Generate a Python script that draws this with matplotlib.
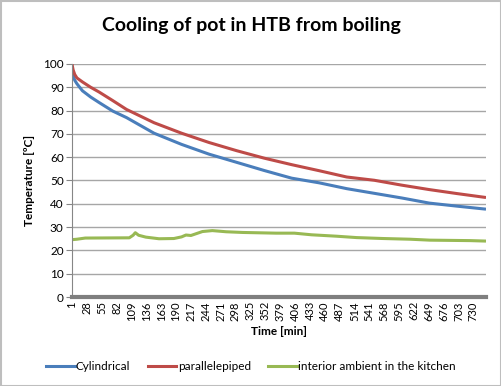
import numpy as np
import matplotlib.pyplot as plt
from matplotlib.patches import Rectangle
from matplotlib.lines import Line2D

# readings taken off the original chart (minutes, °C)
t_pots = [1, 3, 6, 10, 20, 35, 50, 75, 100, 150, 200, 250, 300, 350, 400,
          450, 500, 550, 600, 650, 700, 753]
cylindrical = [99.0, 95.0, 93.0, 91.5, 88.5, 85.8, 83.5, 79.8, 77.0, 70.3, 65.5,
               61.3, 57.8, 54.3, 51.0, 49.0, 46.5, 44.5, 42.5, 40.3, 39.0, 37.7]
parallelepiped = [100.0, 97.5, 95.5, 94.0, 92.3, 90.0, 88.0, 84.3, 80.5, 74.8, 70.3,
                  66.3, 62.8, 59.6, 56.8, 54.2, 51.5, 50.1, 48.0, 46.1, 44.4, 42.7]

t_amb = [1, 10, 25, 105, 112, 116, 122, 135, 159, 186, 200, 208, 217, 238, 256,
         281, 311, 372, 405, 436, 481, 518, 566, 615, 651, 724, 753]
ambient = [24.6, 24.8, 25.3, 25.4, 26.5, 27.6, 26.5, 25.7, 25.0, 25.1, 25.8, 26.6,
           26.4, 28.1, 28.5, 28.0, 27.7, 27.4, 27.4, 26.7, 26.1, 25.5, 25.1, 24.8,
           24.4, 24.2, 24.0]

x_ticks = list(range(1, 731, 27))
names = ["Cylindrical", "parallelepiped", "interior ambient in the kitchen"]
colors = ["#4a7ebb", "#be4b48", "#98b954"]

plt.rcParams['font.family'] = ['Lato', 'DejaVu Sans']

fig = plt.figure(figsize=(5.02, 3.86), dpi=100)
ax = fig.add_axes([72 / 502, 1 - 297 / 386, 414 / 502, 233 / 386])

ax.plot(t_pots, cylindrical, color=colors[0], lw=2.2, solid_capstyle='butt')
ax.plot(t_pots, parallelepiped, color=colors[1], lw=2.2, solid_capstyle='butt')
ax.plot(t_amb, ambient, color=colors[2], lw=2.2, solid_capstyle='butt')

ax.set_xlim(1, 753)
ax.set_ylim(0, 100)
ax.set_yticks(range(0, 101, 10))
ax.set_xticks(x_ticks)
ax.set_xticklabels([str(v) for v in x_ticks], rotation=90, fontsize=8)
ax.tick_params(axis='y', labelsize=8.5, length=4, color='#868686', pad=2)
ax.tick_params(axis='x', length=0, pad=3)
ax.grid(axis='y', color='#a6a6a6', lw=1)
ax.set_axisbelow(True)
for s in ['top', 'right']:
    ax.spines[s].set_visible(False)
ax.spines['left'].set_color('#868686')
ax.spines['bottom'].set_color('#7f7f7f')
ax.spines['bottom'].set_linewidth(3)

ax.set_xlabel("Time [min]", fontsize=8.5, fontweight='bold', labelpad=4)
ax.set_ylabel("Temperature [ºC]", fontsize=8.5, fontweight='bold', labelpad=6)
fig.text(0.5, 1 - 26 / 386, "Cooling of pot in HTB from boiling", ha='center', va='center',
         fontsize=14, fontweight='bold')

handles = [Line2D([], [], color=c, lw=2.2) for c in colors]
fig.legend(handles, names, loc='center', bbox_to_anchor=(0.5, 1 - 367 / 386), ncol=3,
           frameon=False, fontsize=8.5, handlelength=2.4, handletextpad=0.1, columnspacing=1.5)

fig.patches.append(Rectangle((0.001, 0.001), 0.997, 0.997, transform=fig.transFigure,
                             fill=False, edgecolor='#bebebe', lw=1.5))

plt.savefig("out.png", dpi=100)
